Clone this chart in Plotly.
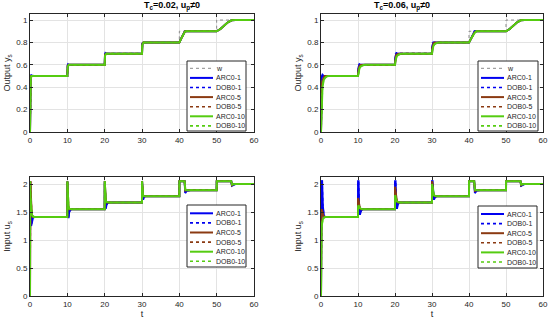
import plotly.graph_objects as go

# ---------------- data ----------------
# reference w (step function)
w_t = [0, 10, 20, 30, 40, 50, 60]
w_y = [0.5, 0.6, 0.7, 0.8, 0.9, 1.0, 1.0]

# time grid for outputs
t_out = [0, 0.1, 0.2, 0.4, 0.7, 1.0, 1.5, 2.0,
         10, 10.1, 10.2, 10.4, 10.7, 11.0, 11.5, 12.0,
         20, 20.1, 20.2, 20.4, 20.7, 21.0, 21.5, 22.0,
         30, 30.1, 30.2, 30.4, 30.7, 31.0, 31.5, 32.0,
         40, 40.5, 41, 41.5, 42,
         50, 51, 52, 53, 54, 55,
         60]

# Tc = 0.02 outputs
y_arc1_a = [0, 0.49, 0.51, 0.505, 0.5, 0.5, 0.5, 0.5,
            0.5, 0.595, 0.605, 0.6, 0.6, 0.6, 0.6, 0.6,
            0.6, 0.695, 0.705, 0.7, 0.7, 0.7, 0.7, 0.7,
            0.7, 0.79, 0.8, 0.8, 0.8, 0.8, 0.8, 0.8,
            0.8, 0.835, 0.868, 0.9, 0.9,
            0.9, 0.92, 0.95, 0.98, 0.998, 1.0,
            1.0]
y_arc5_a = [0, 0.45, 0.5, 0.5, 0.5, 0.5, 0.5, 0.5,
            0.5, 0.59, 0.6, 0.6, 0.6, 0.6, 0.6, 0.6,
            0.6, 0.69, 0.7, 0.7, 0.7, 0.7, 0.7, 0.7,
            0.7, 0.785, 0.8, 0.8, 0.8, 0.8, 0.8, 0.8,
            0.8, 0.835, 0.868, 0.898, 0.9,
            0.9, 0.92, 0.95, 0.98, 0.998, 1.0,
            1.0]
y_arc10_a = [0, 0.38, 0.47, 0.5, 0.5, 0.5, 0.5, 0.5,
             0.5, 0.58, 0.598, 0.6, 0.6, 0.6, 0.6, 0.6,
             0.6, 0.68, 0.698, 0.7, 0.7, 0.7, 0.7, 0.7,
             0.7, 0.775, 0.795, 0.8, 0.8, 0.8, 0.8, 0.8,
             0.8, 0.834, 0.867, 0.897, 0.9,
             0.9, 0.92, 0.95, 0.98, 0.998, 1.0,
             1.0]

# Tc = 0.06 outputs
y_arc1_b = [0, 0.4, 0.49, 0.51, 0.5, 0.5, 0.5, 0.5,
            0.5, 0.57, 0.6, 0.605, 0.6, 0.6, 0.6, 0.6,
            0.6, 0.67, 0.7, 0.705, 0.7, 0.7, 0.7, 0.7,
            0.7, 0.77, 0.795, 0.8, 0.8, 0.8, 0.8, 0.8,
            0.8, 0.83, 0.86, 0.9, 0.9,
            0.9, 0.92, 0.95, 0.98, 0.998, 1.0,
            1.0]
y_arc5_b = [0, 0.3, 0.4, 0.46, 0.49, 0.5, 0.5, 0.5,
            0.5, 0.55, 0.57, 0.59, 0.598, 0.6, 0.6, 0.6,
            0.6, 0.65, 0.67, 0.69, 0.698, 0.7, 0.7, 0.7,
            0.7, 0.75, 0.77, 0.79, 0.798, 0.8, 0.8, 0.8,
            0.8, 0.83, 0.86, 0.89, 0.9,
            0.9, 0.92, 0.95, 0.98, 0.998, 1.0,
            1.0]
y_arc10_b = [0, 0.2, 0.3, 0.4, 0.46, 0.48, 0.495, 0.5,
             0.5, 0.53, 0.55, 0.57, 0.585, 0.593, 0.598, 0.6,
             0.6, 0.63, 0.65, 0.67, 0.685, 0.693, 0.698, 0.7,
             0.7, 0.73, 0.75, 0.77, 0.785, 0.793, 0.798, 0.8,
             0.8, 0.83, 0.86, 0.885, 0.9,
             0.9, 0.92, 0.95, 0.98, 0.998, 1.0,
             1.0]

# time grid for inputs
t_in = [0, 0.02, 0.15, 0.3, 0.5, 0.8, 1.2, 2.0,
        10, 10.02, 10.15, 10.3, 10.5, 10.8, 11.2, 12.0,
        20, 20.02, 20.15, 20.3, 20.5, 20.8, 21.2, 22.0,
        30, 30.02, 30.15, 30.3, 30.5, 30.8, 31.2, 32.0,
        40, 40.02, 41.4, 41.6, 42, 43,
        50, 50.02, 53.9, 54.1, 54.5, 55,
        60]

# Tc = 0.02 inputs
u_arc1_a = [0, 2.05, 1.6, 1.25, 1.35, 1.40, 1.41, 1.41,
            1.41, 2.05, 1.5, 1.39, 1.5, 1.54, 1.55, 1.55,
            1.55, 2.05, 1.65, 1.56, 1.63, 1.66, 1.67, 1.67,
            1.67, 2.05, 1.8, 1.72, 1.76, 1.78, 1.78, 1.78,
            1.78, 2.05, 2.05, 1.84, 1.88, 1.89,
            1.89, 2.05, 2.05, 1.97, 1.99, 2.0,
            2.0]
u_arc5_a = [0, 2.05, 2.05, 1.7, 1.45, 1.41, 1.41, 1.41,
            1.41, 2.05, 1.8, 1.6, 1.55, 1.55, 1.55, 1.55,
            1.55, 2.05, 1.85, 1.7, 1.67, 1.67, 1.67, 1.67,
            1.67, 2.05, 1.88, 1.8, 1.78, 1.78, 1.78, 1.78,
            1.78, 2.05, 2.05, 1.88, 1.89, 1.89,
            1.89, 2.05, 2.05, 1.98, 2.0, 2.0,
            2.0]
u_arc10_a = [0, 2.05, 1.75, 1.6, 1.45, 1.42, 1.41, 1.41,
             1.41, 2.05, 1.7, 1.6, 1.56, 1.55, 1.55, 1.55,
             1.55, 2.05, 1.8, 1.7, 1.68, 1.67, 1.67, 1.67,
             1.67, 2.05, 1.85, 1.79, 1.78, 1.78, 1.78, 1.78,
             1.78, 2.05, 2.05, 1.9, 1.89, 1.89,
             1.89, 2.05, 2.05, 1.99, 2.0, 2.0,
             2.0]

# Tc = 0.06 inputs
u_arc1_b = [0, 2.05, 2.05, 2.05, 1.6, 1.42, 1.41, 1.41,
            1.41, 2.05, 2.05, 1.6, 1.45, 1.52, 1.55, 1.55,
            1.55, 2.05, 2.05, 1.75, 1.56, 1.64, 1.67, 1.67,
            1.67, 2.05, 2.05, 1.9, 1.72, 1.76, 1.78, 1.78,
            1.78, 2.05, 2.05, 1.84, 1.88, 1.89,
            1.89, 2.05, 2.05, 1.97, 1.99, 2.0,
            2.0]
u_arc5_b = [0, 1.4, 1.55, 1.52, 1.45, 1.42, 1.41, 1.41,
            1.41, 1.75, 1.7, 1.62, 1.57, 1.55, 1.55, 1.55,
            1.55, 1.95, 1.85, 1.75, 1.69, 1.67, 1.67, 1.67,
            1.67, 2.05, 2.0, 1.85, 1.8, 1.78, 1.78, 1.78,
            1.78, 2.05, 2.05, 1.88, 1.89, 1.89,
            1.89, 2.05, 2.05, 1.98, 2.0, 2.0,
            2.0]
u_arc10_b = [0, 1.0, 1.2, 1.3, 1.37, 1.4, 1.41, 1.41,
             1.41, 1.6, 1.62, 1.6, 1.57, 1.56, 1.55, 1.55,
             1.55, 1.8, 1.78, 1.72, 1.69, 1.68, 1.67, 1.67,
             1.67, 2.0, 1.95, 1.85, 1.8, 1.79, 1.78, 1.78,
             1.78, 2.05, 2.05, 1.9, 1.89, 1.89,
             1.89, 2.05, 2.05, 1.99, 2.0, 2.0,
             2.0]

series_names = ["ARC0-1", "DOB0-1", "ARC0-5", "DOB0-5", "ARC0-10", "DOB0-10"]
titles = ["T<sub>c</sub>=0.02, u<sub>p</sub>\u22600", "T<sub>c</sub>=0.06, u<sub>p</sub>\u22600"]

# ---------------- style ----------------
BLUE = "#0000F0"
BROWN = "#8B3A12"
GREEN = "#55CC11"
GREY = "#8a8a8a"
colors = [BLUE, BLUE, BROWN, BROWN, GREEN, GREEN]
dashes = ["solid", "dot", "solid", "dot", "solid", "dot"]
widths = [2, 1.6, 2, 1.6, 2, 1.6]
FONT = "Liberation Sans, Arial, sans-serif"
INK = "#262626"

W, H = 550, 320

fig = go.Figure()

panels = [
    ("x", "y", t_out, [y_arc1_a, y_arc1_a, y_arc5_a, y_arc5_a, y_arc10_a, y_arc10_a], True),
    ("x2", "y2", t_out, [y_arc1_b, y_arc1_b, y_arc5_b, y_arc5_b, y_arc10_b, y_arc10_b], True),
    ("x3", "y3", t_in, [u_arc1_a, u_arc1_a, u_arc5_a, u_arc5_a, u_arc10_a, u_arc10_a], False),
    ("x4", "y4", t_in, [u_arc1_b, u_arc1_b, u_arc5_b, u_arc5_b, u_arc10_b, u_arc10_b], False),
]

for xa, ya, tt, data, with_w in panels:
    if with_w:
        fig.add_trace(go.Scatter(x=w_t, y=w_y, mode="lines", name="w", line_shape="hv",
                                 line=dict(color=GREY, width=1, dash="dot"),
                                 xaxis=xa, yaxis=ya, showlegend=False))
    for name, vals, c, d, wd in zip(series_names, data, colors, dashes, widths):
        fig.add_trace(go.Scatter(x=tt, y=vals, mode="lines", name=name,
                                 line=dict(color=c, width=wd, dash=d),
                                 xaxis=xa, yaxis=ya, showlegend=False))

xdom_l = [30 / W, 254 / W]
xdom_r = [321 / W, 543 / W]
ydom_t = [1 - 132 / H, 1 - 14 / H]
ydom_b = [1 - 296 / H, 1 - 177 / H]

axis_common = dict(showline=True, mirror="ticks", linecolor=INK, linewidth=1,
                   ticks="inside", ticklen=3, tickcolor=INK, automargin=False,
                   showgrid=True, gridcolor="#e3e3e3", gridwidth=1, zeroline=False,
                   tickfont=dict(family=FONT, size=8, color=INK))
title_font = dict(family=FONT, size=9, color=INK)

xt = dict(range=[0, 60], tickvals=[0, 10, 20, 30, 40, 50, 60], **axis_common)
yt_out = dict(range=[0, 1.054], tickvals=[0, 0.2, 0.4, 0.6, 0.8, 1],
              ticktext=["0", "0.2", "0.4", "0.6", "0.8", "1"],
              title=dict(text="Output y<sub>s</sub>", standoff=4, font=title_font), **axis_common)
yt_in = dict(range=[0, 2.125], tickvals=[0, 0.5, 1, 1.5, 2],
             title=dict(text="Input u<sub>s</sub>", standoff=4, font=title_font), **axis_common)

fig.update_layout(
    xaxis=dict(domain=xdom_l, anchor="y", **xt),
    xaxis2=dict(domain=xdom_r, anchor="y2", **xt),
    xaxis3=dict(domain=xdom_l, anchor="y3", title=dict(text="t", standoff=2, font=title_font), **xt),
    xaxis4=dict(domain=xdom_r, anchor="y4", title=dict(text="t", standoff=2, font=title_font), **xt),
    yaxis=dict(domain=ydom_t, anchor="x", **yt_out),
    yaxis2=dict(domain=ydom_t, anchor="x2", **yt_out),
    yaxis3=dict(domain=ydom_b, anchor="x3", **yt_in),
    yaxis4=dict(domain=ydom_b, anchor="x4", **yt_in),
)

# ---------------- custom legends (MATLAB-like compact boxes) ----------------
def px(x):
    return x / W

def py(y):
    return 1 - y / H

def add_legend(x0, y0, x1, y1, entries, first_y, step=9.6):
    fig.add_shape(type="rect", xref="paper", yref="paper",
                  x0=px(x0), x1=px(x1), y0=py(y0), y1=py(y1),
                  line=dict(color=INK, width=1), fillcolor="white", layer="above")
    for i, (name, c, d, wd) in enumerate(entries):
        yy = first_y + i * step
        fig.add_shape(type="line", xref="paper", yref="paper",
                      x0=px(x0 + 3), x1=px(x0 + 26), y0=py(yy), y1=py(yy),
                      line=dict(color=c, width=wd, dash=d), layer="above")
        fig.add_annotation(text=name, x=px(x0 + 27), y=py(yy), xref="paper", yref="paper",
                           showarrow=False, xanchor="left", yanchor="middle",
                           font=dict(family=FONT, size=7, color=INK))

entries = list(zip(series_names, colors, dashes, widths))
entries_w = [("w", GREY, "dot", 1)] + entries
add_legend(187, 61, 246, 131, entries_w, 68.3)
add_legend(478, 61, 538, 131, entries_w, 68.3)
add_legend(187, 205, 246, 267, entries, 213.3)
add_legend(478, 206, 537, 268, entries, 214.0)

for i, xc in enumerate([(xdom_l[0] + xdom_l[1]) / 2, (xdom_r[0] + xdom_r[1]) / 2]):
    fig.add_annotation(text="<b>" + titles[i] + "</b>", x=xc, y=py(5.5), xref="paper", yref="paper",
                       showarrow=False, yanchor="middle",
                       font=dict(family=FONT, size=9, color="#000000"))

fig.update_layout(width=W, height=H, margin=dict(l=0, r=0, t=0, b=0),
                  paper_bgcolor="white", plot_bgcolor="white", showlegend=False)

fig.write_html("out.html", config={"displayModeBar": False},
               post_script="document.body.style.margin='0';")
